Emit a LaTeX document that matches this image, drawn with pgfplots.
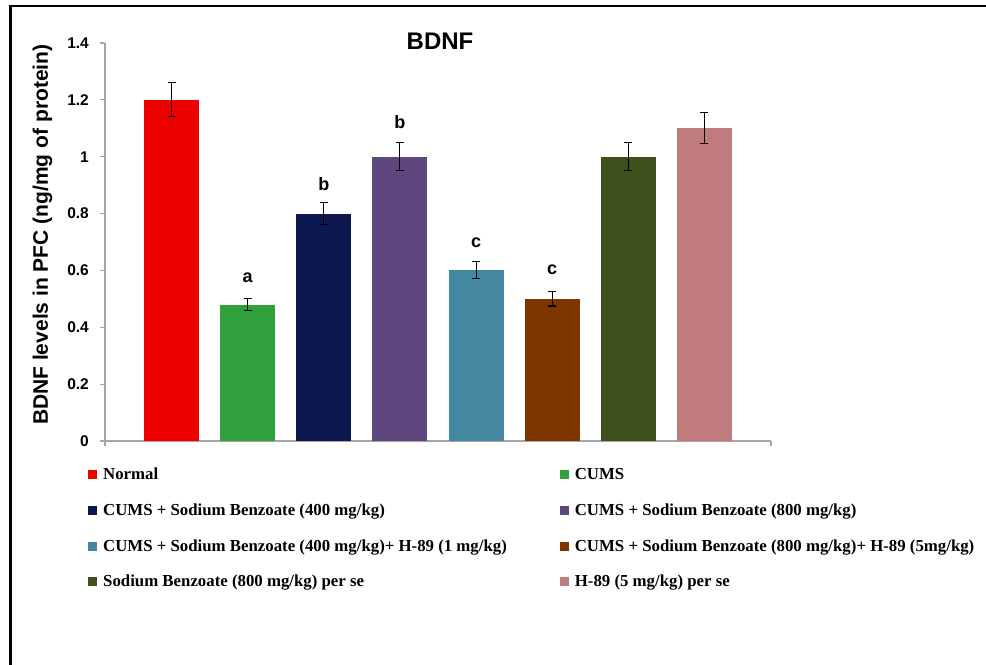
\documentclass[border=0pt]{standalone}
\usepackage{pgfplots}
\pgfplotsset{compat=1.18}
\usepackage{fontspec}
\setmainfont{Liberation Sans}
\newfontfamily\legfont{Liberation Serif}
\definecolor{cNormal}{RGB}{236,0,0}
\definecolor{cCums}{RGB}{48,160,60}
\definecolor{cSBfour}{RGB}{14,24,80}
\definecolor{cSBeight}{RGB}{94,70,126}
\definecolor{cHone}{RGB}{68,136,160}
\definecolor{cHfive}{RGB}{126,54,0}
\definecolor{cSBse}{RGB}{62,80,28}
\definecolor{cHse}{RGB}{192,124,124}
\definecolor{axisgray}{RGB}{165,165,165}
\pgfplotsset{
  mybar/.style={fill=#1, draw=none,
    error bars/.cd, y dir=both, y explicit,
    error bar style={black, line width=1.1bp},
    error mark options={rotate=90, mark size=4bp, line width=1.1bp, black}},
}
\begin{document}
\begin{tikzpicture}[x=1bp,y=1bp]
\useasboundingbox (0,0) rectangle (986,665);
\draw[line width=2.2bp] (10.5,0) -- (10.5,659) -- (987,659);
\begin{axis}[
  at={(105bp,224bp)}, anchor=south west,
  scale only axis, width=666bp, height=398bp,
  xmin=-0.875, xmax=7.875, ymin=0, ymax=1.4,
  axis x line=bottom, axis y line=left,
  axis line style={-, draw=axisgray, line width=1.5bp},
  ytick={0,0.2,0.4,0.6,0.8,1,1.2,1.4},
  xtick={-0.875,7.875}, xticklabels={},
  tick align=outside, major tick length=5bp,
  tick style={axisgray, line width=1.2bp},
  /pgf/number format/assume math mode=true,
  yticklabel style={font=\fontsize{15.5bp}{18bp}\selectfont\bfseries, inner sep=0pt, xshift=-11bp},
  ybar, bar width=55bp, bar shift=0pt,
  title={BDNF},
  title style={at={(axis description cs:0.503,0.99)}, anchor=center, font=\fontsize{24bp}{28bp}\selectfont\bfseries},
  ylabel={BDNF levels in PFC (ng/mg of protein)},
  ylabel style={at={(axis description cs:-0.094,0.518)}, anchor=center, font=\fontsize{21bp}{24bp}\selectfont\bfseries},
  legend cell align=left,
  legend image code/.code={\fill[#1] (0bp,-4.5bp) rectangle (9bp,4.5bp); \path (13bp,0bp);},
  legend style={at={(axis description cs:-0.0255,-0.063)}, anchor=north west,
    draw=none, fill=none, inner sep=0pt,
    font=\legfont\fontsize{16.8bp}{20bp}\selectfont\bfseries,
    legend columns=2, row sep=18.5bp,
    /tikz/every even column/.append style={column sep=51bp}},
]
\addplot[mybar=cNormal] coordinates {(0,1.20) +- (0,0.060)};
\addlegendentry{Normal}
\addplot[mybar=cCums] coordinates {(1,0.48) +- (0,0.022)};
\addlegendentry{CUMS}
\addplot[mybar=cSBfour] coordinates {(2,0.80) +- (0,0.040)};
\addlegendentry{CUMS + Sodium Benzoate (400 mg/kg)}
\addplot[mybar=cSBeight] coordinates {(3,1.00) +- (0,0.050)};
\addlegendentry{CUMS + Sodium Benzoate (800 mg/kg)}
\addplot[mybar=cHone] coordinates {(4,0.60) +- (0,0.030)};
\addlegendentry{CUMS + Sodium Benzoate (400 mg/kg)+ H-89 (1 mg/kg)}
\addplot[mybar=cHfive] coordinates {(5,0.50) +- (0,0.025)};
\addlegendentry{CUMS + Sodium Benzoate (800 mg/kg)+ H-89 (5mg/kg)}
\addplot[mybar=cSBse] coordinates {(6,1.00) +- (0,0.050)};
\addlegendentry{Sodium Benzoate (800 mg/kg) per se}
\addplot[mybar=cHse] coordinates {(7,1.10) +- (0,0.055)};
\addlegendentry{H-89 (5 mg/kg) per se}
\begin{scope}[every node/.style={font=\fontsize{18bp}{20bp}\selectfont\bfseries}]
\node at (axis cs:1,0.573) {a};
\node at (axis cs:2,0.905) {b};
\node at (axis cs:3,1.122) {b};
\node at (axis cs:4,0.697) {c};
\node at (axis cs:5,0.601) {c};
\end{scope}
\end{axis}
\end{tikzpicture}
\end{document}
